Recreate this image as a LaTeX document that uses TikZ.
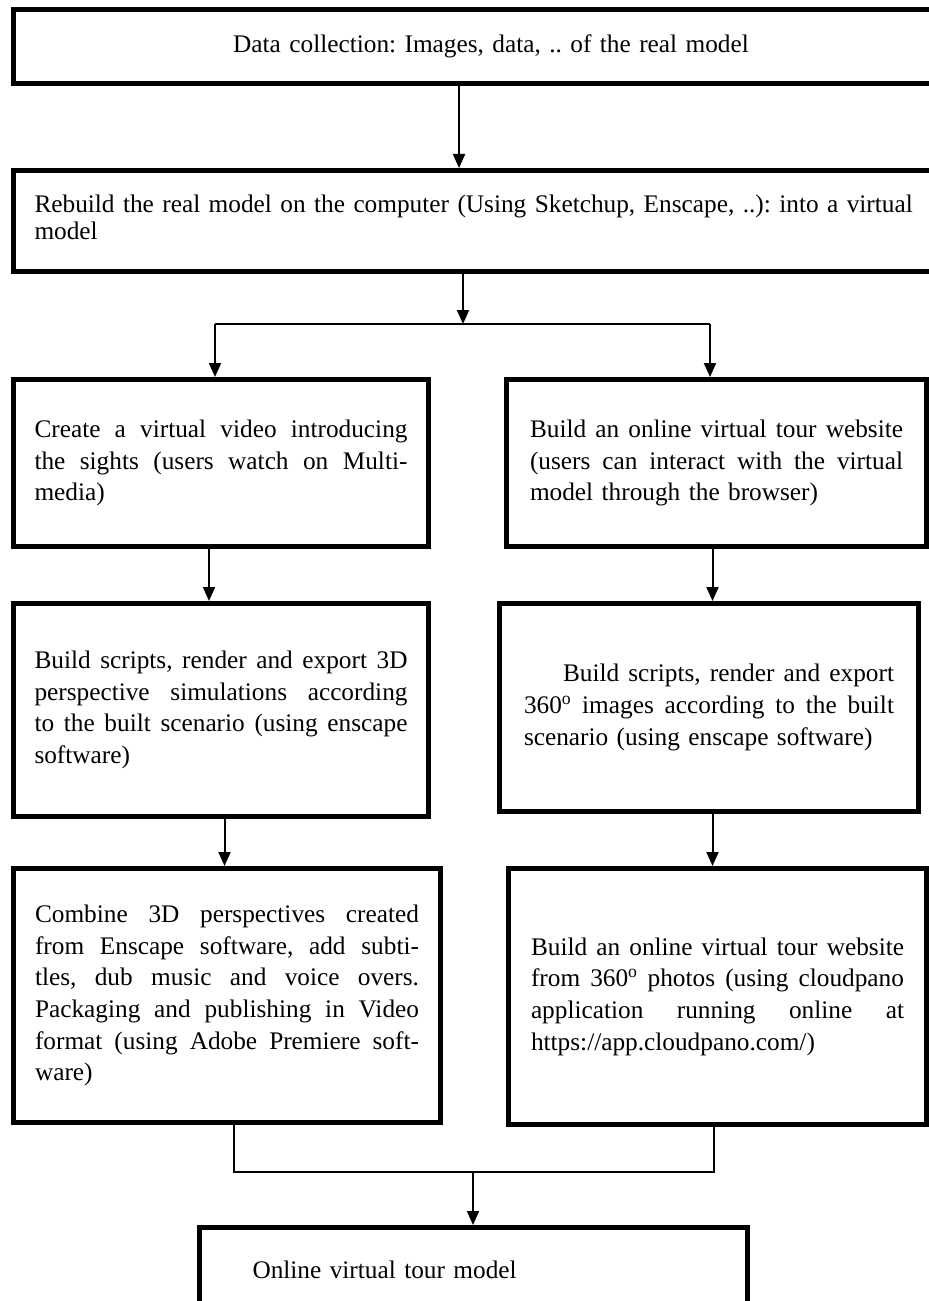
\documentclass[tikz,border=0pt]{standalone}
\usepackage{fontspec}
\setmainfont{Liberation Serif}
\usetikzlibrary{arrows.meta}
\newlength{\boxw}
\newcommand{\jline}[1]{\makebox[\boxw][s]{\spaceskip=.25em plus 1fil\relax #1}\\}

\begin{document}
\frenchspacing
\begin{tikzpicture}
[x=1bp,y=-1bp,%
  stage/.style={draw,line width=5bp,anchor=north west,align=left,%
    inner ysep=0bp,font=\fontsize{25.3bp}{31.7bp}\selectfont},%
  wide/.style={text width=#1,execute at begin node={\setlength{\boxw}{#1}}},%
  flow/.style={->,line width=2bp},%
  mergeline/.style={-,line width=1.3bp},%
  >={Triangle[width=12bp,length=14bp]}]
\useasboundingbox (0,0) rectangle (928,1301);
% first two stages span the page
\node[stage,align=center,text width=911bp,inner xsep=22bp,minimum height=74bp]
  (data) at (11,7) {Data collection: Images, data, .. of the real model};
\node[stage,text width=911bp,inner xsep=21bp,minimum height=101bp,text depth=35bp,%
  font=\fontsize{25.3bp}{27bp}\selectfont]
  (rebuild) at (11,168) {Rebuild the real model on the computer (Using Sketchup, Enscape, ..): into a virtual\\model};
% video branch
\node[stage,wide=373bp,inner xsep=21bp,minimum height=167bp] (video) at (11,377)
  {\jline{Create a virtual video introducing}\jline{the sights (users watch on Multi-}media)};
\node[stage,wide=373bp,inner xsep=21bp,minimum height=213bp] (s3d) at (11,601)
  {\jline{Build scripts, render and export 3D}\jline{perspective simulations according}%
   \jline{to the built scenario (using enscape}software)};
\node[stage,wide=384bp,inner xsep=21.5bp,minimum height=254bp] (combine) at (11,866)
  {\jline{Combine 3D perspectives created}\jline{from Enscape software, add subti-}%
   \jline{tles, dub music and voice overs.}\jline{Packaging and publishing in Video}%
   \jline{format (using Adobe Premiere soft-}ware)};
% website branch
\node[stage,wide=373bp,inner xsep=23.5bp,minimum height=167bp] (tour) at (504,377)
  {\jline{Build an online virtual tour website}\jline{(users can interact with the virtual}model through the browser)};
\node[stage,wide=370bp,inner xsep=24.5bp,minimum height=208bp] (s360) at (497,601)
  {\jline{\hspace*{39bp}Build scripts, render and export}%
   \jline{360\textsuperscript{o} images according to the built}scenario (using enscape software)};
\node[stage,wide=373bp,inner xsep=22.5bp,minimum height=256bp] (cloud) at (506,866)
  {\jline{Build an online virtual tour website}\jline{from 360\textsuperscript{o} photos (using cloudpano}%
   \jline{application running online at}https://app.cloudpano.com/)};
% result
\node[stage,text width=442bp,inner xsep=53bp,minimum height=84bp] (online) at (197,1225)
  {Online virtual tour model};

\coordinate (splitL) at (215,324);
\coordinate (splitM) at (463,324);
\coordinate (splitR) at (710,324);
\coordinate (joinL) at (234,1172);
\coordinate (joinM) at (473,1172);
\coordinate (joinR) at (714,1172);

\draw[flow] ([xshift=-32bp]data.south) -- ([xshift=-32bp]data.south |- rebuild.north);
\draw[flow] (rebuild.south -| splitM) -- (splitM);
\draw[mergeline] (splitL) -- (splitR);
\draw[flow] (splitL) -- (splitL |- video.north);
\draw[flow] (splitR) -- (splitR |- tour.north);
\draw[flow] ([xshift=-12bp]video.south) -- ([xshift=-12bp]video.south |- s3d.north);
\draw[flow] ([xshift=-4bp]tour.south) -- ([xshift=-4bp]tour.south |- s360.north);
\draw[flow] ([xshift=3.5bp]s3d.south) -- ([xshift=3.5bp]s3d.south |- combine.north);
\draw[flow] ([xshift=3.5bp]s360.south) -- ([xshift=3.5bp]s360.south |- cloud.north);
\draw[mergeline] (combine.south -| joinL) -- (joinL) -- (joinR) -- (cloud.south -| joinR);
\draw[flow] (joinM) -- (joinM |- online.north);
\end{tikzpicture}
\end{document}
